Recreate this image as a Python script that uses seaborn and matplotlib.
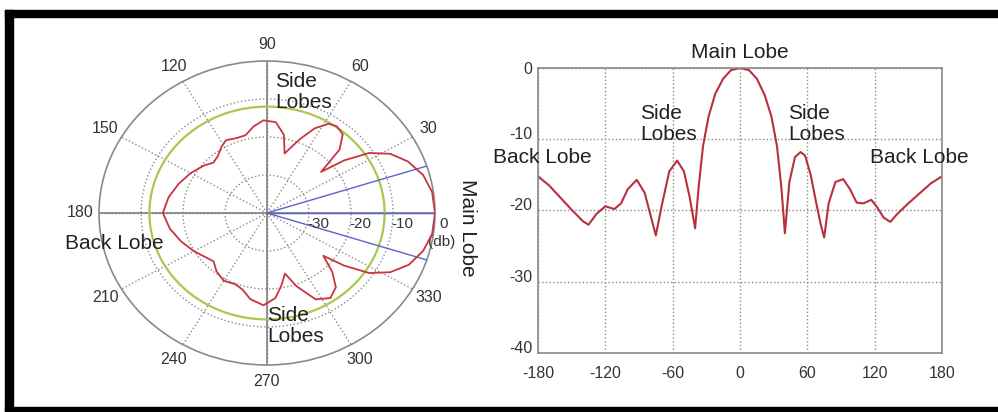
import numpy as np
import matplotlib
matplotlib.use("Agg")
import matplotlib.pyplot as plt
import matplotlib.transforms as mtransforms
import seaborn as sns
from matplotlib.patches import Rectangle

# -----------------------------
# Data
# -----------------------------
ANGLES = [-180, -170, -160, -150, -140, -135, -128, -120, -112, -106,
          -100, -92, -85, -80, -75, -70, -63, -56, -50, -45,
          -40, -37, -33, -28, -22, -15, -8, 0, 8, 15,
          22, 28, 33, 37, 40, 44, 49, 54, 58, 63,
          68, 72, 75, 79, 85, 92, 98, 104, 110, 117,
          122, 128, 134, 140, 150, 160, 170, 180]
GAIN_DB = [-15.2, -16.5, -18.2, -19.9, -21.5, -22.0, -20.5, -19.4, -19.8, -19.0,
           -17.0, -15.7, -17.5, -20.5, -23.5, -19.5, -14.5, -13.0, -14.5, -18.0,
           -22.5, -17.0, -11.0, -6.8, -3.6, -1.5, -0.3, 0.0, -0.3, -1.5,
           -3.8, -6.8, -11.0, -17.0, -23.2, -16.0, -12.5, -11.8, -12.3, -15.0,
           -19.0, -22.0, -23.8, -19.0, -16.0, -15.6, -17.0, -18.9, -19.0, -18.5,
           -19.5, -21.0, -21.6, -20.5, -19.0, -17.6, -16.2, -15.2]

R_TICKS = [-30, -20, -10, 0]
THETA_TICKS = list(range(30, 360, 30))
AXIS_ANGLES = [0, 90, 180, 270]
BEAM_EDGES = [-18, 0, 18]
REF_LEVEL = -12

X_TICKS = [-180, -120, -60, 0, 60, 120, 180]
Y_TICKS = [0, -10, -20, -30, -40]

RED = "#c83440"
GRID = "#8a8a8a"
TXT = "#333333"

sns.set_style("white")
plt.rcParams["font.family"] = ["Liberation Sans", "DejaVu Sans"]
plt.rcParams["axes.unicode_minus"] = False

W, H = 998, 412
fig = plt.figure(figsize=(W / 100, H / 100), dpi=100)

# -----------------------------
# Polar pattern
# -----------------------------
ax_p = fig.add_axes([99 / W, (H - 365) / H, 336 / W, 304 / H], projection="polar")
ax_p.set_aspect("auto")
ax_p.set_ylim(-40, 0)

ax_p.set_rgrids(R_TICKS[:-1], labels=[""] * 3)
ax_p.set_thetagrids([0] + THETA_TICKS, labels=[""] * (len(THETA_TICKS) + 1))
ax_p.grid(True, linestyle=":", color=GRID, linewidth=1)
ax_p.spines["polar"].set_color(GRID)
ax_p.spines["polar"].set_linewidth(1.2)

# angle labels just outside the rim
for t in THETA_TICKS:
    ax_p.text(np.deg2rad(t), 4.4, str(t), ha="center", va="center",
              fontsize=11.5, color=TXT, clip_on=False)

for a in AXIS_ANGLES:
    ax_p.plot([np.deg2rad(a)] * 2, [-40, 0], color="#777777", lw=1.1, zorder=2)

ring = np.linspace(0, 2 * np.pi, 361)
ax_p.plot(ring, np.full_like(ring, REF_LEVEL), color="#a8c850", lw=1.6, zorder=2)

for a in BEAM_EDGES:
    ax_p.plot([np.deg2rad(a)] * 2, [-40, 0], color="#5a64c8", lw=1, zorder=3)

sns.lineplot(x=np.deg2rad(ANGLES), y=GAIN_DB, ax=ax_p, color=RED, lw=1.3,
             sort=False, zorder=4)
ax_p.set_xlabel("")
ax_p.set_ylabel("")

for r in R_TICKS:
    ax_p.annotate(str(r), xy=(0, r), xytext=(9, -11), textcoords="offset pixels",
                  ha="center", va="center", fontsize=11, color=TXT)
ax_p.text(1.021, 0.405, "(db)", transform=ax_p.transAxes, ha="center",
          va="center", fontsize=11, color=TXT)

lbl = dict(fontsize=15, color="#222222", linespacing=1.15)
ax_p.text(0.524, 0.965, "Side\nLobes", transform=ax_p.transAxes, ha="left", va="top", **lbl)
ax_p.text(0.50, 0.195, "Side\nLobes", transform=ax_p.transAxes, ha="left", va="top", **lbl)
ax_p.text(-0.101, 0.40, "Back Lobe", transform=ax_p.transAxes, ha="left", va="center", **lbl)
ax_p.text(1.098, 0.45, "Main Lobe", transform=ax_p.transAxes, ha="center",
          va="center", rotation=-90, **lbl)

# -----------------------------
# Rectangular pattern
# -----------------------------
ax_r = fig.add_axes([538 / W, (H - 353) / H, 404 / W, 285 / H])
sns.lineplot(x=ANGLES, y=GAIN_DB, ax=ax_r, color="#b8303c", lw=1.5, sort=False)
ax_r.set_xlim(-180, 180)
ax_r.set_ylim(-40, 0)
ax_r.set_xticks(X_TICKS)
ax_r.set_yticks(Y_TICKS)
ax_r.set_xlabel("")
ax_r.set_ylabel("")
ax_r.grid(True, linestyle=":", color=GRID, linewidth=1)
ax_r.tick_params(length=0, labelsize=11.5, labelcolor=TXT)
ax_r.tick_params(axis="x", pad=9)
ax_r.tick_params(axis="y", pad=4)
for s in ax_r.spines.values():
    s.set_color(GRID)
    s.set_linewidth(1.2)

# y labels sit a little above their gridlines in the original
lift = mtransforms.ScaledTranslation(0, 6 / 100, fig.dpi_scale_trans)
for tl in ax_r.get_yticklabels()[1:]:
    tl.set_transform(tl.get_transform() + lift)

ax_r.text(0, 2.2, "Main Lobe", ha="center", va="center", clip_on=False, **lbl)
ax_r.text(-89, -5.0, "Side\nLobes", ha="left", va="top", **lbl)
ax_r.text(43, -5.0, "Side\nLobes", ha="left", va="top", **lbl)
ax_r.text(-220, -12.6, "Back Lobe", ha="left", va="center", clip_on=False, **lbl)
ax_r.text(116, -12.6, "Back Lobe", ha="left", va="center", clip_on=False, **lbl)

# -----------------------------
# Black frame
# -----------------------------
for x0, y0, w, h in [(5, 10, W - 5, 7), (5, 10, 8, H - 10), (5, 407, W - 5, 5)]:
    fig.add_artist(Rectangle((x0 / W, (H - y0 - h) / H), w / W, h / H,
                             transform=fig.transFigure, color="black", zorder=10))

fig.savefig("out.png", dpi=100)
